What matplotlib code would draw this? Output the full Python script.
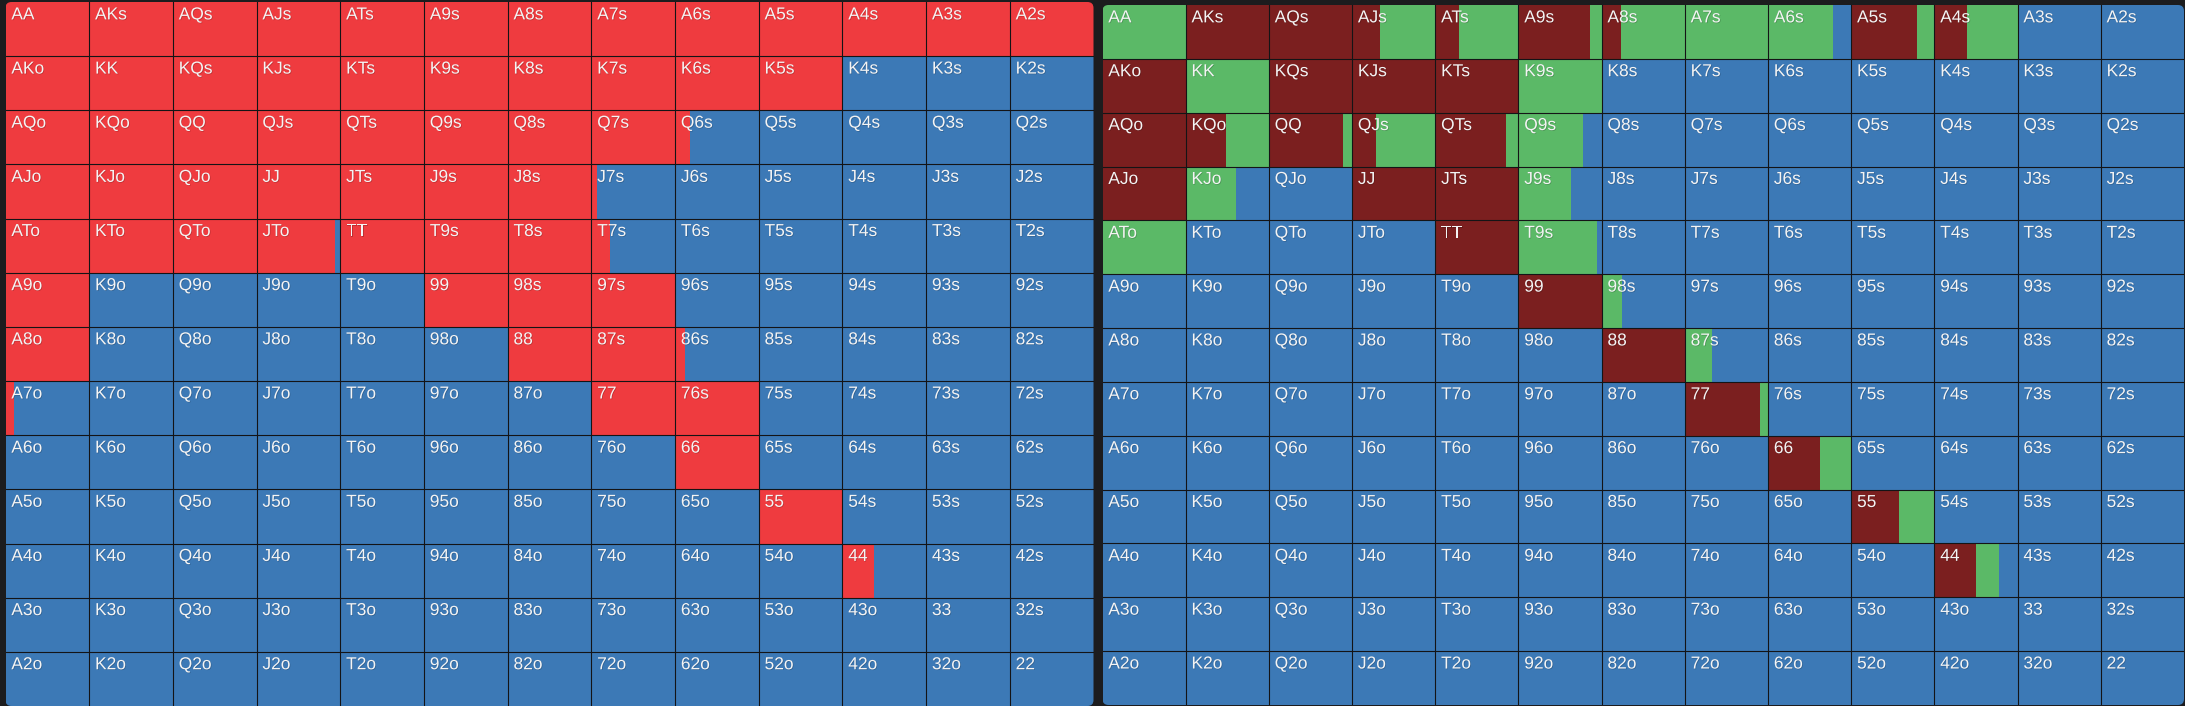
import numpy as np
import matplotlib
matplotlib.use("Agg")
import matplotlib.pyplot as plt
from matplotlib.patches import FancyBboxPatch
import matplotlib.patheffects as pe


# Data


ranks = ["A", "K", "Q", "J", "T", "9", "8", "7", "6", "5", "4", "3", "2"]

# left chart: share of each hand that raises (rest folds)
left_raise = [
    [1, 1, 1, 1, 1, 1, 1, 1, 1, 1, 1, 1, 1],
    [1, 1, 1, 1, 1, 1, 1, 1, 1, 1, 0, 0, 0],
    [1, 1, 1, 1, 1, 1, 1, 1, 0.18, 0, 0, 0, 0],
    [1, 1, 1, 1, 1, 1, 1, 0.07, 0, 0, 0, 0, 0],
    [1, 1, 1, 0.94, 1, 1, 1, 0.22, 0, 0, 0, 0, 0],
    [1, 0, 0, 0, 0, 1, 1, 1, 0, 0, 0, 0, 0],
    [1, 0, 0, 0, 0, 0, 1, 1, 0.12, 0, 0, 0, 0],
    [0.1, 0, 0, 0, 0, 0, 0, 1, 1, 0, 0, 0, 0],
    [0, 0, 0, 0, 0, 0, 0, 0, 1, 0, 0, 0, 0],
    [0, 0, 0, 0, 0, 0, 0, 0, 0, 1, 0, 0, 0],
    [0, 0, 0, 0, 0, 0, 0, 0, 0, 0, 0.38, 0, 0],
    [0, 0, 0, 0, 0, 0, 0, 0, 0, 0, 0, 0, 0],
    [0, 0, 0, 0, 0, 0, 0, 0, 0, 0, 0, 0, 0],
]

# right chart: 3-bet share and call share (rest folds)
right_raise = [
    [0, 1, 1, 0.34, 0.28, 0.86, 0.23, 0, 0, 0.79, 0.39, 0, 0],
    [1, 0, 1, 1, 1, 0, 0, 0, 0, 0, 0, 0, 0],
    [1, 0.48, 0.89, 0.29, 0.85, 0, 0, 0, 0, 0, 0, 0, 0],
    [1, 0, 0, 1, 1, 0, 0, 0, 0, 0, 0, 0, 0],
    [0, 0, 0, 0, 1, 0, 0, 0, 0, 0, 0, 0, 0],
    [0, 0, 0, 0, 0, 1, 0, 0, 0, 0, 0, 0, 0],
    [0, 0, 0, 0, 0, 0, 1, 0, 0, 0, 0, 0, 0],
    [0, 0, 0, 0, 0, 0, 0, 0.9, 0, 0, 0, 0, 0],
    [0, 0, 0, 0, 0, 0, 0, 0, 0.62, 0, 0, 0, 0],
    [0, 0, 0, 0, 0, 0, 0, 0, 0, 0.58, 0, 0, 0],
    [0, 0, 0, 0, 0, 0, 0, 0, 0, 0, 0.5, 0, 0],
    [0, 0, 0, 0, 0, 0, 0, 0, 0, 0, 0, 0, 0],
    [0, 0, 0, 0, 0, 0, 0, 0, 0, 0, 0, 0, 0],
]
right_call = [
    [1, 0, 0, 0.66, 0.72, 0.14, 0.77, 1, 0.78, 0.21, 0.61, 0, 0],
    [0, 1, 0, 0, 0, 1, 0, 0, 0, 0, 0, 0, 0],
    [0, 0.52, 0.11, 0.71, 0.15, 0.77, 0, 0, 0, 0, 0, 0, 0],
    [0, 0.61, 0, 0, 0, 0.63, 0, 0, 0, 0, 0, 0, 0],
    [1, 0, 0, 0, 0, 0.95, 0, 0, 0, 0, 0, 0, 0],
    [0, 0, 0, 0, 0, 0, 0.25, 0, 0, 0, 0, 0, 0],
    [0, 0, 0, 0, 0, 0, 0, 0.33, 0, 0, 0, 0, 0],
    [0, 0, 0, 0, 0, 0, 0, 0.1, 0, 0, 0, 0, 0],
    [0, 0, 0, 0, 0, 0, 0, 0, 0.38, 0, 0, 0, 0],
    [0, 0, 0, 0, 0, 0, 0, 0, 0, 0.42, 0, 0, 0],
    [0, 0, 0, 0, 0, 0, 0, 0, 0, 0, 0.28, 0, 0],
    [0, 0, 0, 0, 0, 0, 0, 0, 0, 0, 0, 0, 0],
    [0, 0, 0, 0, 0, 0, 0, 0, 0, 0, 0, 0, 0],
]


# Styles


RED = "#ef3b3f"
BLUE = "#3c79b6"
DARKRED = "#7b1f1f"
GREEN = "#5bb967"
BG = "#1c1c1e"
GRID = "#141416"
W, H, DPI = 2185, 706, 100

plt.rcParams['font.family'] = ['Liberation Sans', 'DejaVu Sans']


def hand_label(i, j):
    if i == j:
        return ranks[i] + ranks[j]
    if i < j:
        return ranks[i] + ranks[j] + "s"
    return ranks[j] + ranks[i] + "o"


def draw_grid(fig, box, layers):
    # box = (left, top, right, bottom) in pixels, layers = [(matrix, colour), ...]
    x0, y0, x1, y1 = box
    ax = fig.add_axes([x0 / W, 1 - y1 / H, (x1 - x0) / W, (y1 - y0) / H])
    ax.set_xlim(0, 13)
    ax.set_ylim(13, 0)
    ax.axis('off')

    # rounded panel outline, only used for clipping
    clip = FancyBboxPatch((x0 / DPI, (H - y1) / DPI), (x1 - x0) / DPI, (y1 - y0) / DPI,
                          boxstyle="round,pad=0,rounding_size=0.06",
                          transform=fig.dpi_scale_trans)

    for r in range(13):
        left = np.arange(13, dtype=float)
        for mat, col in layers:
            vals = np.array(mat[r], dtype=float)
            bars = ax.barh(np.full(13, r), vals, left=left, height=1.0,
                           color=col, linewidth=0, align='edge')
            for b in bars:
                b.set_clip_path(clip)
            left = left + vals
        # whatever is left folds
        rest = np.arange(13) + 1 - left
        bars = ax.barh(np.full(13, r), rest, left=left, height=1.0,
                       color=BLUE, linewidth=0, align='edge')
        for b in bars:
            b.set_clip_path(clip)

    for k in range(1, 13):
        ax.axvline(k, color=GRID, lw=0.8)
        ax.axhline(k, color=GRID, lw=0.8)

    for i in range(13):
        for j in range(13):
            ax.text(j + 0.07, i + 0.1, hand_label(i, j), ha='left', va='top',
                    fontsize=12.5, color='#f4f4f4',
                    path_effects=[pe.withSimplePatchShadow(offset=(0.5, -0.5),
                                                           shadow_rgbFace='#000000', alpha=0.2)])
    return ax


fig = plt.figure(figsize=(W / DPI, H / DPI), dpi=DPI, facecolor=BG)

draw_grid(fig, (5.5, 2, 1093.5, 706), [(left_raise, RED)])
draw_grid(fig, (1102.5, 5, 2184, 705), [(right_raise, DARKRED), (right_call, GREEN)])

fig.savefig("out.png", dpi=DPI, facecolor=BG)
